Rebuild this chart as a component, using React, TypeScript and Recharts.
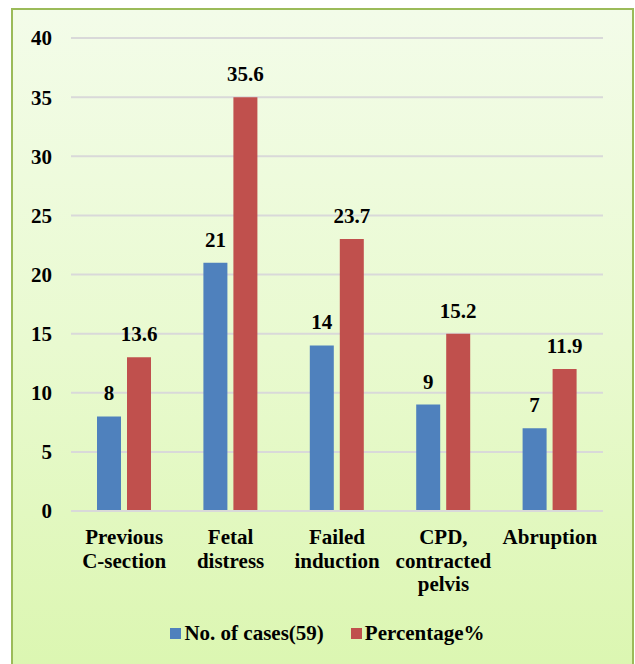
import { BarChart, Bar, XAxis, YAxis, CartesianGrid, Legend, LabelList } from 'recharts';

const CATEGORIES = ['Previous\nC-section', 'Fetal\ndistress', 'Failed\ninduction', 'CPD,\ncontracted\npelvis', 'Abruption'];
const CASES = [8, 21, 14, 9, 7];
// bar heights as drawn in the source (rounded), labels show the exact percent
const PERCENT_BARS = [13, 35, 23, 15, 12];
const PERCENT_LABELS = ['13.6', '35.6', '23.7', '15.2', '11.9'];
const Y_TICKS = [0, 5, 10, 15, 20, 25, 30, 35, 40];

const BLUE = '#4F81BD';
const RED = '#C0504D';
const FONT = '"Liberation Serif", "Times New Roman", serif';
const FS = 21;

const data = CATEGORIES.map((name, i) => ({
    name,
    cases: CASES[i],
    percent: PERCENT_BARS[i],
    percentLabel: PERCENT_LABELS[i],
}));

function CategoryTick(props: any) {
    const { x, y, payload } = props;
    const lines = String(payload.value).split('\n');
    return (
        <text x={x} y={y} textAnchor="middle" fontFamily={FONT} fontWeight="bold" fontSize={FS} fill="#000">
            {lines.map((line, i) => (
                <tspan key={i} x={x} dy={i === 0 ? 33 : 23.5}>{line}</tspan>
            ))}
        </text>
    );
}

function LegendContent() {
    const items = [
        { label: 'No. of cases(59)', color: BLUE },
        { label: 'Percentage%', color: RED },
    ];
    return (
        <div style={{ display: 'flex', justifyContent: 'center', alignItems: 'center', height: 40, paddingLeft: 52, fontFamily: FONT, fontWeight: 'bold', fontSize: FS, color: '#000' }}>
            {items.map((it, i) => (
                <div key={i} style={{ display: 'flex', alignItems: 'center', marginLeft: i === 0 ? 0 : 27 }}>
                    <span style={{ display: 'inline-block', width: 11, height: 11, background: it.color, marginRight: 3 }} />
                    <span>{it.label}</span>
                </div>
            ))}
        </div>
    );
}

export default function App() {
    return (
        <div style={{ position: 'absolute', left: 0, top: 0, width: 635, height: 664, overflow: 'hidden', background: '#fff' }}>
            {/* panel with green border and gradient */}
            <div
                style={{
                    position: 'absolute', left: 11, top: 8, width: 619, height: 670,
                    border: '2px solid #9BBB59',
                    background: 'linear-gradient(to bottom, #F3FCE9 0%, #E9FAD0 50%, #DBF6B0 100%)',
                }}
            />
            <div style={{ position: 'absolute', left: 0, top: 0 }}>
                <BarChart
                    width={635}
                    height={664}
                    data={data}
                    margin={{ top: 38, right: 32, bottom: 11, left: 0 }}
                    barSize={24}
                    barGap={6}
                >
                    <CartesianGrid vertical={false} stroke="#D9D9D9" strokeWidth={2} />
                    <XAxis
                        dataKey="name"
                        height={102}
                        axisLine={{ stroke: '#D9D9D9', strokeWidth: 2 }}
                        tickLine={false}
                        tickSize={0}
                        tickMargin={0}
                        interval={0}
                        tick={<CategoryTick />}
                    />
                    <YAxis
                        width={71}
                        domain={[0, 40]}
                        ticks={Y_TICKS}
                        axisLine={false}
                        tickLine={false}
                        tickSize={0}
                        tickMargin={19}
                        tick={{ fontFamily: FONT, fontWeight: 'bold', fontSize: FS, fill: '#000' }}
                    />
                    <Legend verticalAlign="bottom" height={40} content={<LegendContent />} />
                    <Bar dataKey="cases" fill={BLUE} isAnimationActive={false}>
                        <LabelList dataKey="cases" position="top" offset={16} fontFamily={FONT} fontWeight="bold" fontSize={FS} fill="#000" />
                    </Bar>
                    <Bar dataKey="percent" fill={RED} isAnimationActive={false}>
                        <LabelList dataKey="percentLabel" position="top" offset={16} fontFamily={FONT} fontWeight="bold" fontSize={FS} fill="#000" />
                    </Bar>
                </BarChart>
            </div>
        </div>
    );
}
